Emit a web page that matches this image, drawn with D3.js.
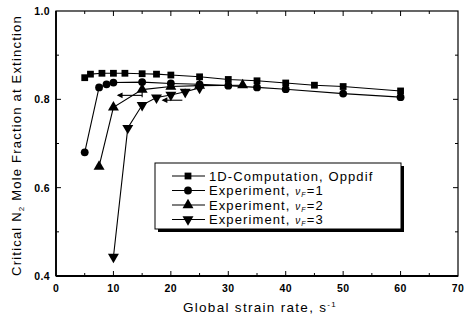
<!DOCTYPE html>
<html>
<head>
<meta charset="utf-8">
<script src="https://cdn.jsdelivr.net/npm/d3@7"></script>
<style>
  body { margin: 0; background: #fff; }
  svg { font-family: "Liberation Sans", Arial, sans-serif; }
</style>
</head>
<body>
<div id="chart"></div>
<script>
// 1D-Computation, Oppdif (squares)
const compX = [5, 6, 8, 10, 12, 15, 17.5, 20, 25, 30, 35, 40, 45, 50, 60];
const compY = [0.849, 0.857, 0.859, 0.859, 0.859, 0.858, 0.857, 0.855, 0.851, 0.845, 0.842, 0.837, 0.832, 0.829, 0.819];

// Experiment, vF=1 (circles)
const exp1X = [5, 7.5, 8.8, 10, 15, 20, 25, 30, 35, 40, 50, 60];
const exp1Y = [0.680, 0.827, 0.834, 0.838, 0.839, 0.836, 0.834, 0.831, 0.827, 0.823, 0.813, 0.805];

// Experiment, vF=2 (triangles)
const exp2X = [7.5, 10, 15, 20, 25, 32.5];
const exp2Y = [0.648, 0.782, 0.822, 0.829, 0.831, 0.832];

// Experiment, vF=3 (inverted triangles)
const exp3X = [10, 12.5, 15, 17.5, 20, 22.5, 25];
const exp3Y = [0.443, 0.735, 0.787, 0.804, 0.810, 0.817, 0.826];

// error bars (vertical) and horizontal arrows
const vbarX = [15, 22.5];
const vbarLo = [0.805, 0.805];
const vbarHi = [0.836, 0.824];
const hArrowY = [0.809, 0.798];
const hArrowFrom = [15, 22];
const hArrowTo = [10.8, 18.6];

const xTicks = [0, 10, 20, 30, 40, 50, 60, 70];
const yTicks = [0.4, 0.6, 0.8, 1.0];

const W = 468, H = 320;
const svg = d3.select('#chart').append('svg')
  .attr('width', W).attr('height', H);

const x = d3.scaleLinear().domain([0, 70]).range([56, 458]);
const y = d3.scaleLinear().domain([0.4, 1.0]).range([276, 11]);

// frame
svg.append('rect')
  .attr('x', x(0)).attr('y', y(1.0))
  .attr('width', x(70) - x(0)).attr('height', y(0.4) - y(1.0))
  .attr('fill', 'none').attr('stroke', '#000').attr('stroke-width', 1.2);
svg.append('line')
  .attr('x1', x(0)).attr('x2', x(0)).attr('y1', y(1.0)).attr('y2', y(0.4))
  .attr('stroke', '#000').attr('stroke-width', 1.8);
svg.append('line')
  .attr('x1', x(0)).attr('x2', x(70)).attr('y1', y(0.4)).attr('y2', y(0.4))
  .attr('stroke', '#000').attr('stroke-width', 1.8);

// inward ticks
const xMinor = d3.range(5, 70, 10);
const yMinor = [0.5, 0.7, 0.9];
const tickG = svg.append('g').attr('stroke', '#000').attr('stroke-width', 1);
xTicks.slice(1, -1).forEach(v => {
  tickG.append('line').attr('x1', x(v)).attr('x2', x(v)).attr('y1', y(0.4)).attr('y2', y(0.4) - 5);
  tickG.append('line').attr('x1', x(v)).attr('x2', x(v)).attr('y1', y(1.0)).attr('y2', y(1.0) + 5);
});
xMinor.forEach(v => {
  tickG.append('line').attr('x1', x(v)).attr('x2', x(v)).attr('y1', y(0.4)).attr('y2', y(0.4) - 3);
  tickG.append('line').attr('x1', x(v)).attr('x2', x(v)).attr('y1', y(1.0)).attr('y2', y(1.0) + 3);
});
yTicks.slice(1, -1).forEach(v => {
  tickG.append('line').attr('x1', x(0)).attr('x2', x(0) + 5).attr('y1', y(v)).attr('y2', y(v));
  tickG.append('line').attr('x1', x(70)).attr('x2', x(70) - 5).attr('y1', y(v)).attr('y2', y(v));
});
yMinor.forEach(v => {
  tickG.append('line').attr('x1', x(0)).attr('x2', x(0) + 3).attr('y1', y(v)).attr('y2', y(v));
  tickG.append('line').attr('x1', x(70)).attr('x2', x(70) - 3).attr('y1', y(v)).attr('y2', y(v));
});

// tick labels
svg.append('g').selectAll('text').data(xTicks).enter().append('text')
  .attr('x', d => x(d)).attr('y', 292)
  .attr('text-anchor', 'middle')
  .attr('font-size', 10.5).attr('font-weight', 'bold').attr('letter-spacing', 0.4)
  .text(d => d);
svg.append('g').selectAll('text').data(yTicks).enter().append('text')
  .attr('x', 50).attr('y', d => y(d) + 4)
  .attr('text-anchor', 'end')
  .attr('font-size', 10.5).attr('font-weight', 'bold').attr('letter-spacing', 0.4)
  .text(d => d.toFixed(1));

// axis titles
const xt = svg.append('text')
  .attr('x', 260).attr('y', 312)
  .attr('text-anchor', 'middle').attr('font-size', 13.5)
  .attr('letter-spacing', 1.3)
  .text('Global strain rate, s');
xt.append('tspan').attr('dy', -5).attr('font-size', 8).text('-1');

const yt = svg.append('text')
  .attr('transform', `translate(21,${(y(0.4) + y(1.0)) / 2 + 2}) rotate(-90)`)
  .attr('text-anchor', 'middle').attr('font-size', 13)
  .attr('letter-spacing', 1.2)
  .text('Critical N');
yt.append('tspan').attr('dy', 3).attr('font-size', 8).text('2');
yt.append('tspan').attr('dy', -3).text(' Mole Fraction at Extinction');

// markers
const markers = {
  square: d3.symbol().type(d3.symbolSquare).size(46),
  circle: d3.symbol().type(d3.symbolCircle).size(48),
  up: d3.symbol().type(d3.symbolTriangle).size(52),
  down: d3.symbol().type(d3.symbolTriangle).size(52)
};

const series = [
  { xs: compX, ys: compY, m: 'square' },
  { xs: exp1X, ys: exp1Y, m: 'circle' },
  { xs: exp2X, ys: exp2Y, m: 'up' },
  { xs: exp3X, ys: exp3Y, m: 'down' }
];

const line = d3.line().x(d => x(d[0])).y(d => y(d[1]));

series.forEach(s => {
  const pts = s.xs.map((v, i) => [v, s.ys[i]]);
  svg.append('path').datum(pts)
    .attr('d', line).attr('fill', 'none')
    .attr('stroke', '#000').attr('stroke-width', 1.1);
  svg.append('g').selectAll('path').data(pts).enter().append('path')
    .attr('d', markers[s.m])
    .attr('transform', d => `translate(${x(d[0])},${y(d[1])})${s.m === 'down' ? ' rotate(180)' : ''}`)
    .attr('fill', '#000');
});

// error bars and arrows
const eb = svg.append('g').attr('stroke', '#000').attr('stroke-width', 1.1);
vbarX.forEach((v, i) => {
  eb.append('line').attr('x1', x(v)).attr('x2', x(v)).attr('y1', y(vbarLo[i])).attr('y2', y(vbarHi[i]));
});
hArrowY.forEach((v, i) => {
  eb.append('line').attr('x1', x(hArrowFrom[i])).attr('x2', x(hArrowTo[i])).attr('y1', y(v)).attr('y2', y(v));
  eb.append('path')
    .attr('d', `M${x(hArrowTo[i])},${y(v)} l4,-2 l0,4 z`)
    .attr('fill', '#000');
});

// legend
const lg = { x: 155, y: 163, w: 246, h: 66 };
svg.append('rect')
  .attr('x', lg.x + 3).attr('y', lg.y + 3).attr('width', lg.w).attr('height', lg.h)
  .attr('fill', '#000');
svg.append('rect')
  .attr('x', lg.x).attr('y', lg.y).attr('width', lg.w).attr('height', lg.h)
  .attr('fill', '#fff').attr('stroke', '#000').attr('stroke-width', 1);

const legendItems = [
  { m: 'square', label: '1D-Computation, Oppdif', sub: null },
  { m: 'circle', label: 'Experiment, ', sub: '1' },
  { m: 'up', label: 'Experiment, ', sub: '2' },
  { m: 'down', label: 'Experiment, ', sub: '3' }
];
legendItems.forEach((d, i) => {
  const cy = 176 + i * 14.5;
  svg.append('line').attr('x1', 172).attr('x2', 205).attr('y1', cy).attr('y2', cy)
    .attr('stroke', '#000').attr('stroke-width', 1.2);
  svg.append('path').attr('d', markers[d.m])
    .attr('transform', `translate(188,${cy})${d.m === 'down' ? ' rotate(180)' : ''}`)
    .attr('fill', '#000');
  const t = svg.append('text').attr('x', 209).attr('y', cy + 4.5)
    .attr('font-size', 13).attr('letter-spacing', 1.1).text(d.label);
  if (d.sub) {
    t.append('tspan').attr('font-style', 'italic').attr('font-size', 10).text('ν');
    t.append('tspan').attr('font-style', 'italic').attr('font-size', 7).attr('dy', 2).text('F');
    t.append('tspan').attr('dy', -2).text('=' + d.sub);
  }
});
</script>
</body>
</html>
